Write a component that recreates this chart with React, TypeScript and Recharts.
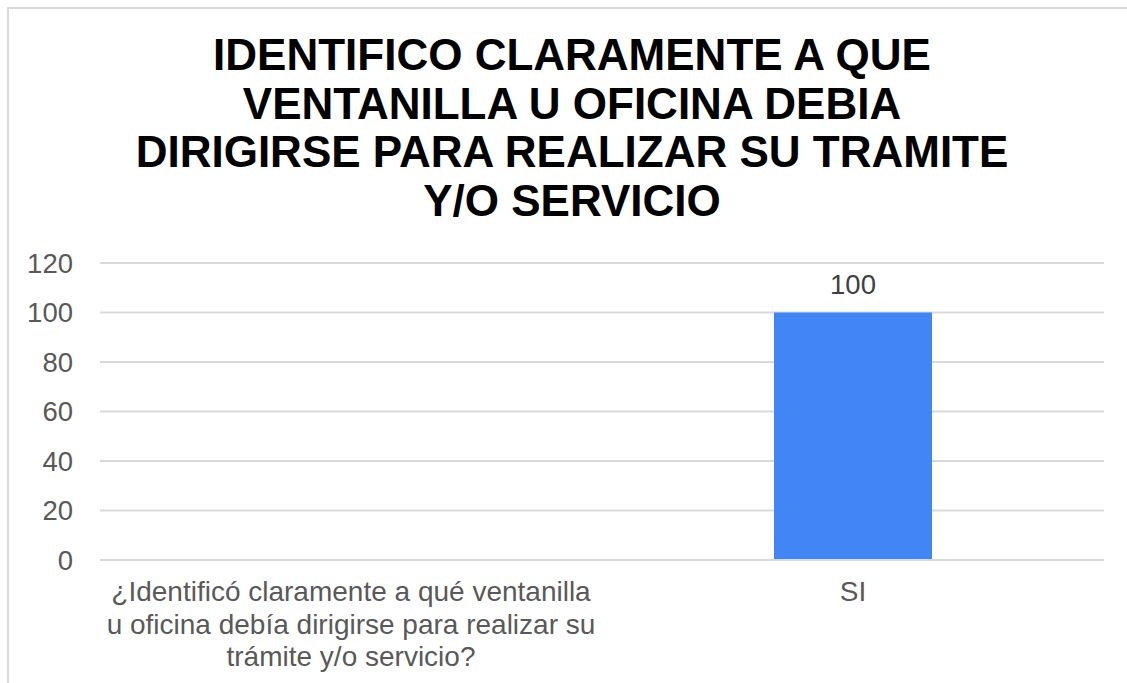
import React from 'react';
import { BarChart, Bar, XAxis, YAxis, CartesianGrid, LabelList } from 'recharts';

const categories = [
  '¿Identificó claramente a qué ventanilla u oficina debía dirigirse para realizar su trámite y/o servicio?',
  'SI',
];
const values = [null, 100];
const yTicks = [0, 20, 40, 60, 80, 100, 120];
const titleLines = [
  'IDENTIFICO CLARAMENTE A QUE',
  'VENTANILLA U OFICINA DEBIA',
  'DIRIGIRSE PARA REALIZAR SU TRAMITE',
  'Y/O SERVICIO',
];

const data = categories.map((name, i) => ({ name, value: values[i] }));

const FONT = '"Liberation Sans", Arial, sans-serif';
const LABEL_SIZE = 27.5;
const CAT_SIZE = 28;

// greedy word wrap, measured with a canvas so lines break like the original
let ctx: CanvasRenderingContext2D | null = null;
const wrap = (text: string, maxWidth: number) => {
  if (!ctx) {
    ctx = document.createElement('canvas').getContext('2d');
  }
  ctx!.font = `${CAT_SIZE}px "Liberation Sans"`;
  const lines: string[] = [];
  let cur = '';
  text.split(' ').forEach((w) => {
    const next = cur ? cur + ' ' + w : w;
    if (cur && ctx!.measureText(next).width > maxWidth) {
      lines.push(cur);
      cur = w;
    } else {
      cur = next;
    }
  });
  if (cur) lines.push(cur);
  return lines;
};

const CategoryTick = (props: any) => {
  const { x, y, payload } = props;
  const lines = wrap(payload.value, 497);
  return (
    <text
      x={x}
      y={y + 41}
      textAnchor="middle"
      fill="#595959"
      style={{ fontSize: CAT_SIZE, fontFamily: FONT }}
    >
      {lines.map((l, i) => (
        <tspan key={i} x={x} dy={i === 0 ? 0 : 32.5}>
          {l}
        </tspan>
      ))}
    </text>
  );
};

export default function App() {
  return (
    <div style={{ position: 'absolute', left: 0, top: 0, width: 1127, height: 683, background: '#fff', fontFamily: FONT }}>
      <div
        style={{
          position: 'absolute',
          left: 7,
          top: 7,
          right: 0,
          bottom: 0,
          borderTop: '2px solid #d9d9d9',
          borderLeft: '2px solid #d9d9d9',
        }}
      />
      <div
        style={{
          position: 'absolute',
          left: 0,
          width: 1144,
          top: 31,
          textAlign: 'center',
          fontWeight: 'bold',
          fontSize: 44,
          lineHeight: '48.5px',
          color: '#000',
        }}
      >
        {titleLines.map((l) => (
          <div key={l}>{l}</div>
        ))}
      </div>
      <div style={{ position: 'absolute', left: 0, top: 0 }}>
        <BarChart
          width={1127}
          height={683}
          data={data}
          margin={{ top: 263, right: 23, left: 0, bottom: 13 }}
        >
          <CartesianGrid vertical={false} stroke="#d9d9d9" strokeWidth={2} />
          <XAxis
            dataKey="name"
            axisLine={{ stroke: '#d9d9d9', strokeWidth: 2 }}
            tickLine={false}
            tickSize={0}
            tickMargin={0}
            height={110}
            interval={0}
            tick={<CategoryTick />}
          />
          <YAxis
            domain={[0, 120]}
            ticks={yTicks}
            width={100}
            axisLine={false}
            tickLine={false}
            tickSize={0}
            tickMargin={27}
            tick={{ fill: '#595959', fontSize: LABEL_SIZE, fontFamily: FONT }}
          />
          <Bar dataKey="value" fill="#4285f4" barSize={158} isAnimationActive={false}>
            <LabelList
              dataKey="value"
              position="top"
              offset={19}
              fill="#404040"
              style={{ fontSize: LABEL_SIZE, fontFamily: FONT }}
            />
          </Bar>
        </BarChart>
      </div>
    </div>
  );
}
